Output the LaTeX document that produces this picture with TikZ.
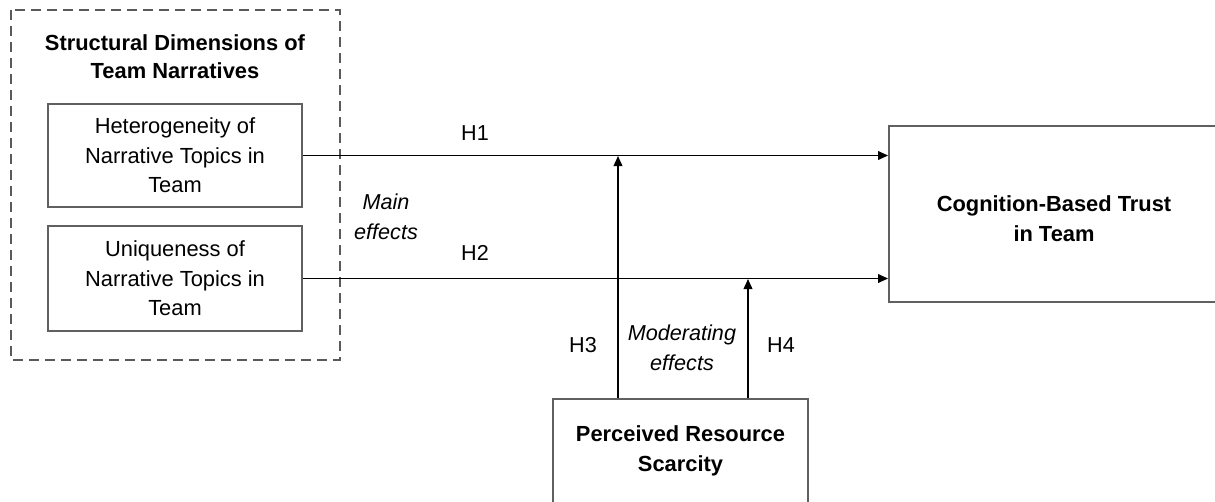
\documentclass[tikz,border=0pt]{standalone}
\usepackage{fontspec}
\setmainfont{Liberation Sans}
\usetikzlibrary{arrows.meta}
\definecolor{boxgray}{HTML}{606060}
\definecolor{dashgray}{HTML}{5A5A5A}
\begin{document}
\begin{tikzpicture}[x=0.75pt,y=-0.75pt,
  varbox/.style={draw=boxgray,line width=1.4pt,fill=white,align=center,
    inner sep=0pt,font=\fontsize{16.4}{22}\selectfont},
  keybox/.style={varbox,font=\fontsize{16.4}{22.5}\selectfont\bfseries},
  lbl/.style={inner sep=0pt,align=center,font=\fontsize{16.2}{22.5}\selectfont},
  ilbl/.style={lbl,font=\fontsize{16.2}{22.5}\selectfont\itshape},
  effect/.style={line width=1.15pt,-{Triangle[length=7.5pt,width=6.5pt]}}]
\useasboundingbox (0,0) rectangle (1215,501);
\clip (0,0) rectangle (1215,501);

% group of structural dimensions
\draw[dashgray,line width=1.5pt,dash pattern=on 7.5pt off 4.5pt]
  (11,10) rectangle (340,360);
\node[lbl,font=\fontsize{16.4}{21}\selectfont\bfseries] (title) at (175,57)
  {Structural Dimensions of\\Team Narratives};

% variables
\node[varbox,minimum width=190.5pt,minimum height=77.25pt] (het) at (175,155.5)
  {Heterogeneity of\\Narrative Topics in\\Team};
\node[varbox,minimum width=190.5pt,minimum height=78.75pt] (uni) at (175,278.5)
  {Uniqueness of\\Narrative Topics in\\Team};
\node[varbox,minimum width=247.5pt,minimum height=132pt] (trust) at (1054,214) {};
\node[lbl,font=\fontsize{16.4}{22.5}\selectfont\bfseries] (trusttext) at (1054,219)
  {Cognition-Based Trust\\in Team};
\node[varbox,minimum width=191.25pt,minimum height=78pt] (scar) at (680.5,451) {};
\node[lbl,font=\fontsize{16.4}{22.5}\selectfont\bfseries] (scartext) at (680.5,451)
  {Perceived Resource\\Scarcity};

% main effects
\draw[effect] (het.east) -- (het.east -| trust.west);
\draw[effect] (uni.east) -- (uni.east -| trust.west);

% moderating effects
\coordinate (m3) at (618,156);
\coordinate (m4) at (748,279);
\draw[effect] (m3 |- scar.north) -- (m3);
\draw[effect] (m4 |- scar.north) -- (m4);

% labels
\node[lbl] (h1) at (475,133) {H1};
\node[lbl] (h2) at (475,253) {H2};
\node[lbl] (h3) at (583,345) {H3};
\node[lbl] (h4) at (781,345) {H4};
\node[ilbl] (main) at (386,217) {Main\\effects};
\node[ilbl] (mod) at (682,348) {Moderating\\effects};
\end{tikzpicture}
\end{document}
